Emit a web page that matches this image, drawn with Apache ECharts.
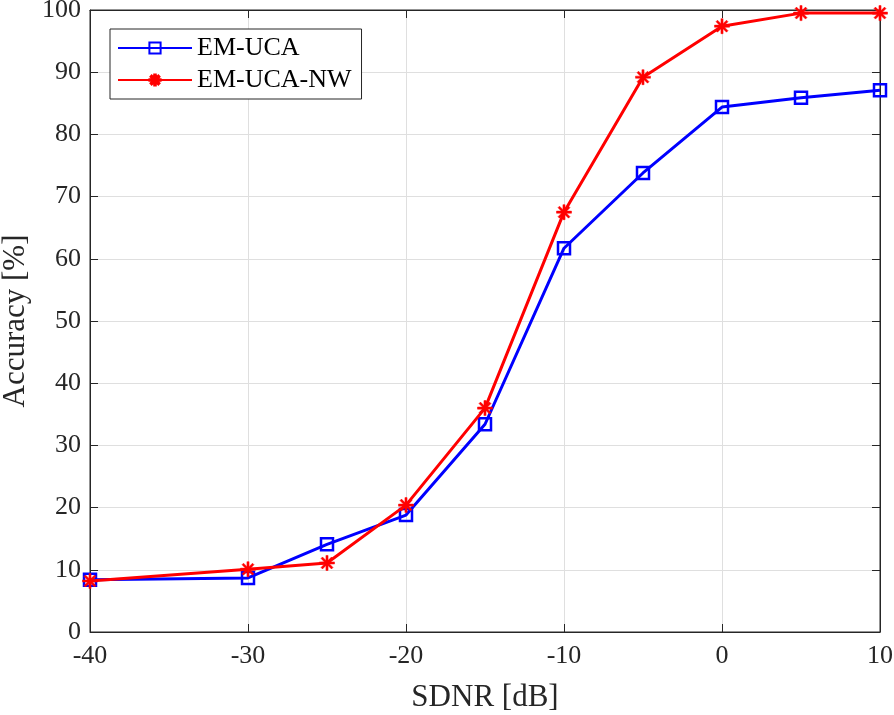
<!DOCTYPE html>
<html><head><meta charset="utf-8">
<script src="https://cdn.jsdelivr.net/npm/echarts@6/dist/echarts.min.js"></script>
<style>html,body{margin:0;padding:0;background:#fff}#c{width:894px;height:715px}</style>
</head><body><div id="c"></div>
<script>
const snr = [-40, -30, -25, -20, -15, -10, -5, 0, 5, 10];
const emUca = [8.4, 8.7, 14.1, 18.8, 33.4, 61.7, 73.8, 84.4, 85.9, 87.1];
const emUcaNw = [8.2, 10.1, 11.1, 20.4, 36.0, 67.5, 89.2, 97.4, 99.5, 99.5];
const xTicks = [-40, -30, -20, -10, 0, 10];
const yTicks = [0, 10, 20, 30, 40, 50, 60, 70, 80, 90, 100];

const FONT = '"Liberation Serif", "Times New Roman", serif';
const star = 'path://M8.6 0 L11.4 0 L11.4 20 L8.6 20 Z M0 8.6 L20 8.6 L20 11.4 L0 11.4 Z M4 2 L18 16 L16 18 L2 4 Z M16 2 L18 4 L4 18 L2 16 Z';
const axisCol = '#262626';
const tickCommon = {show: true, inside: true, length: 8, lineStyle: {color: axisCol, width: 1}};

const chart = echarts.init(document.getElementById('c'), null, {renderer: 'canvas'});
chart.setOption({
  animation: false,
  backgroundColor: '#fff',
  grid: {left: 90, right: 14, top: 10, bottom: 83, show: true, borderColor: axisCol, borderWidth: 1,
    containLabel: false, outerBoundsMode: 'none'},
  legend: {
    left: 110, top: 29, orient: 'vertical',
    backgroundColor: '#fff', borderColor: axisCol, borderWidth: 1,
    padding: [6, 10, 6, 7], itemGap: 6, itemWidth: 74, itemHeight: 14,
    textStyle: {fontFamily: FONT, fontSize: 26, color: '#000'},
    data: ['EM-UCA', 'EM-UCA-NW']
  },
  xAxis: [{
    type: 'value', min: -40, max: 10, interval: 10,
    name: 'SDNR [dB]', nameLocation: 'middle', nameGap: 50,
    nameTextStyle: {fontFamily: FONT, fontSize: 31, color: '#262626'},
    axisLine: {show: true, onZero: false, lineStyle: {color: axisCol, width: 1}},
    axisTick: tickCommon,
    axisLabel: {fontFamily: FONT, fontSize: 26, color: '#262626', margin: 11,
      formatter: v => xTicks.includes(v) ? String(v) : ''},
    splitLine: {show: true, lineStyle: {color: '#dfdfdf', width: 1}}
  }, {
    type: 'value', min: -40, max: 10, interval: 10, position: 'top',
    axisLine: {show: true, onZero: false, lineStyle: {color: axisCol}}, axisTick: tickCommon,
    axisLabel: {show: false}, splitLine: {show: false}
  }],
  yAxis: [{
    type: 'value', min: 0, max: 100, interval: 10,
    name: 'Accuracy [%]', nameLocation: 'middle', nameGap: 57,
    nameTextStyle: {fontFamily: FONT, fontSize: 31, color: '#262626'},
    axisLine: {show: true, onZero: false, lineStyle: {color: axisCol, width: 1}},
    axisTick: tickCommon,
    axisLabel: {fontFamily: FONT, fontSize: 26, color: '#262626', margin: 9,
      formatter: v => yTicks.includes(v) ? String(v) : ''},
    splitLine: {show: true, lineStyle: {color: '#dfdfdf', width: 1}}
  }, {
    type: 'value', min: 0, max: 100, interval: 10, position: 'right',
    axisLine: {show: true, onZero: false, lineStyle: {color: axisCol}}, axisTick: tickCommon,
    axisLabel: {show: false}, splitLine: {show: false}
  }],
  series: [{
    name: 'EM-UCA', type: 'line',
    data: snr.map((x, i) => [x, emUca[i]]),
    symbol: 'rect', symbolSize: 12,
    lineStyle: {color: '#0000ff', width: 3},
    itemStyle: {color: 'rgba(255,255,255,0)', borderColor: '#0000ff', borderWidth: 2.5},
    z: 3
  }, {
    name: 'EM-UCA-NW', type: 'line',
    data: snr.map((x, i) => [x, emUcaNw[i]]),
    symbol: star, symbolSize: 15,
    lineStyle: {color: '#ff0000', width: 3},
    itemStyle: {color: '#ff0000', borderColor: '#ff0000', borderWidth: 0.5},
    z: 4
  }]
});
</script></body></html>
